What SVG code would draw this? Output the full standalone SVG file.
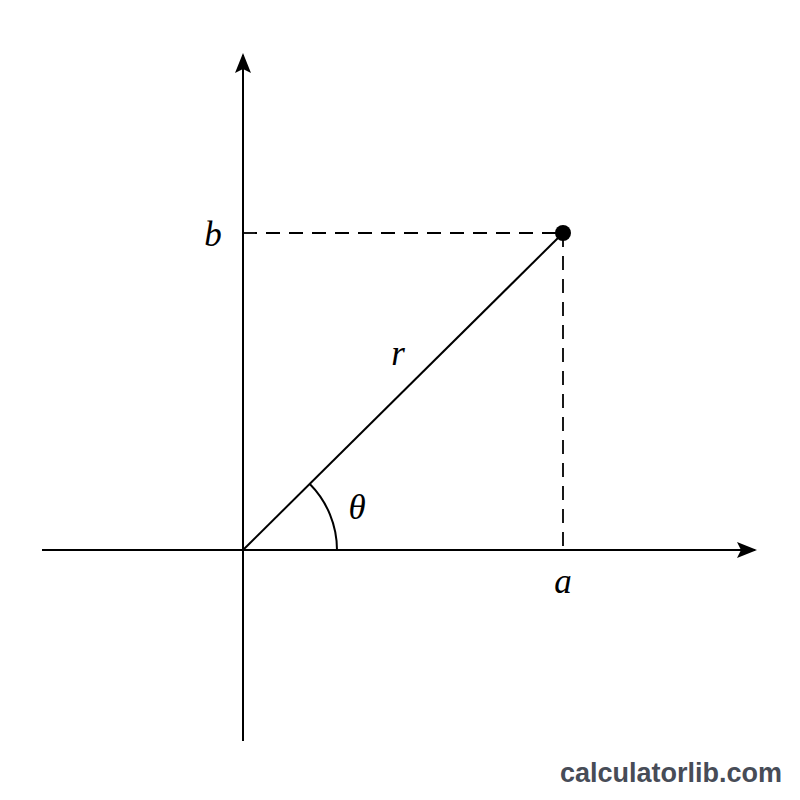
<svg xmlns="http://www.w3.org/2000/svg" width="800" height="800" viewBox="0 0 800 800">
<style>
.ax{stroke:#000;stroke-width:2;fill:none}
.dash{stroke:#000;stroke-width:1.8;fill:none;stroke-dasharray:14 9}
.lbl{font-family:"Liberation Serif","DejaVu Serif",serif;font-style:italic;font-size:35px;fill:#000;text-anchor:middle}
.wm{font-family:"Liberation Sans",Arial,sans-serif;font-weight:bold;font-size:27px;fill:#474c57}
</style>
<defs>
<marker id="arr" viewBox="0 0 20 16" refX="18" refY="8" markerWidth="20" markerHeight="16" markerUnits="userSpaceOnUse" orient="auto">
<path d="M0,0 L20,8 L0,16 L4,8 Z" fill="#000"/>
</marker>
</defs>
<rect width="800" height="800" fill="#fff"/>
<g id="connectors">
<line class="ax" x1="42" y1="550" x2="755" y2="550" marker-end="url(#arr)"/>
<line class="ax" x1="243" y1="741" x2="243" y2="55" marker-end="url(#arr)"/>
<line class="dash" x1="243" y1="233" x2="563" y2="233"/>
<line class="dash" x1="563" y1="233" x2="563" y2="550"/>
<line class="ax" x1="243" y1="550" x2="563" y2="233"/>
<path class="ax" d="M337,550 A94,94 0 0 0 309.8,484"/>
</g>
<g id="point"><circle cx="563" cy="233" r="8" fill="#000"/></g>
<g id="label-b"><text class="lbl" x="213" y="246">b</text></g>
<g id="label-a"><text class="lbl" x="563" y="593">a</text></g>
<g id="label-r"><text class="lbl" x="398" y="365">r</text></g>
<g id="label-theta"><text class="lbl" x="357" y="519">θ</text></g>
<g id="watermark"><text class="wm" x="560" y="782">calculatorlib.com</text></g>
</svg>
